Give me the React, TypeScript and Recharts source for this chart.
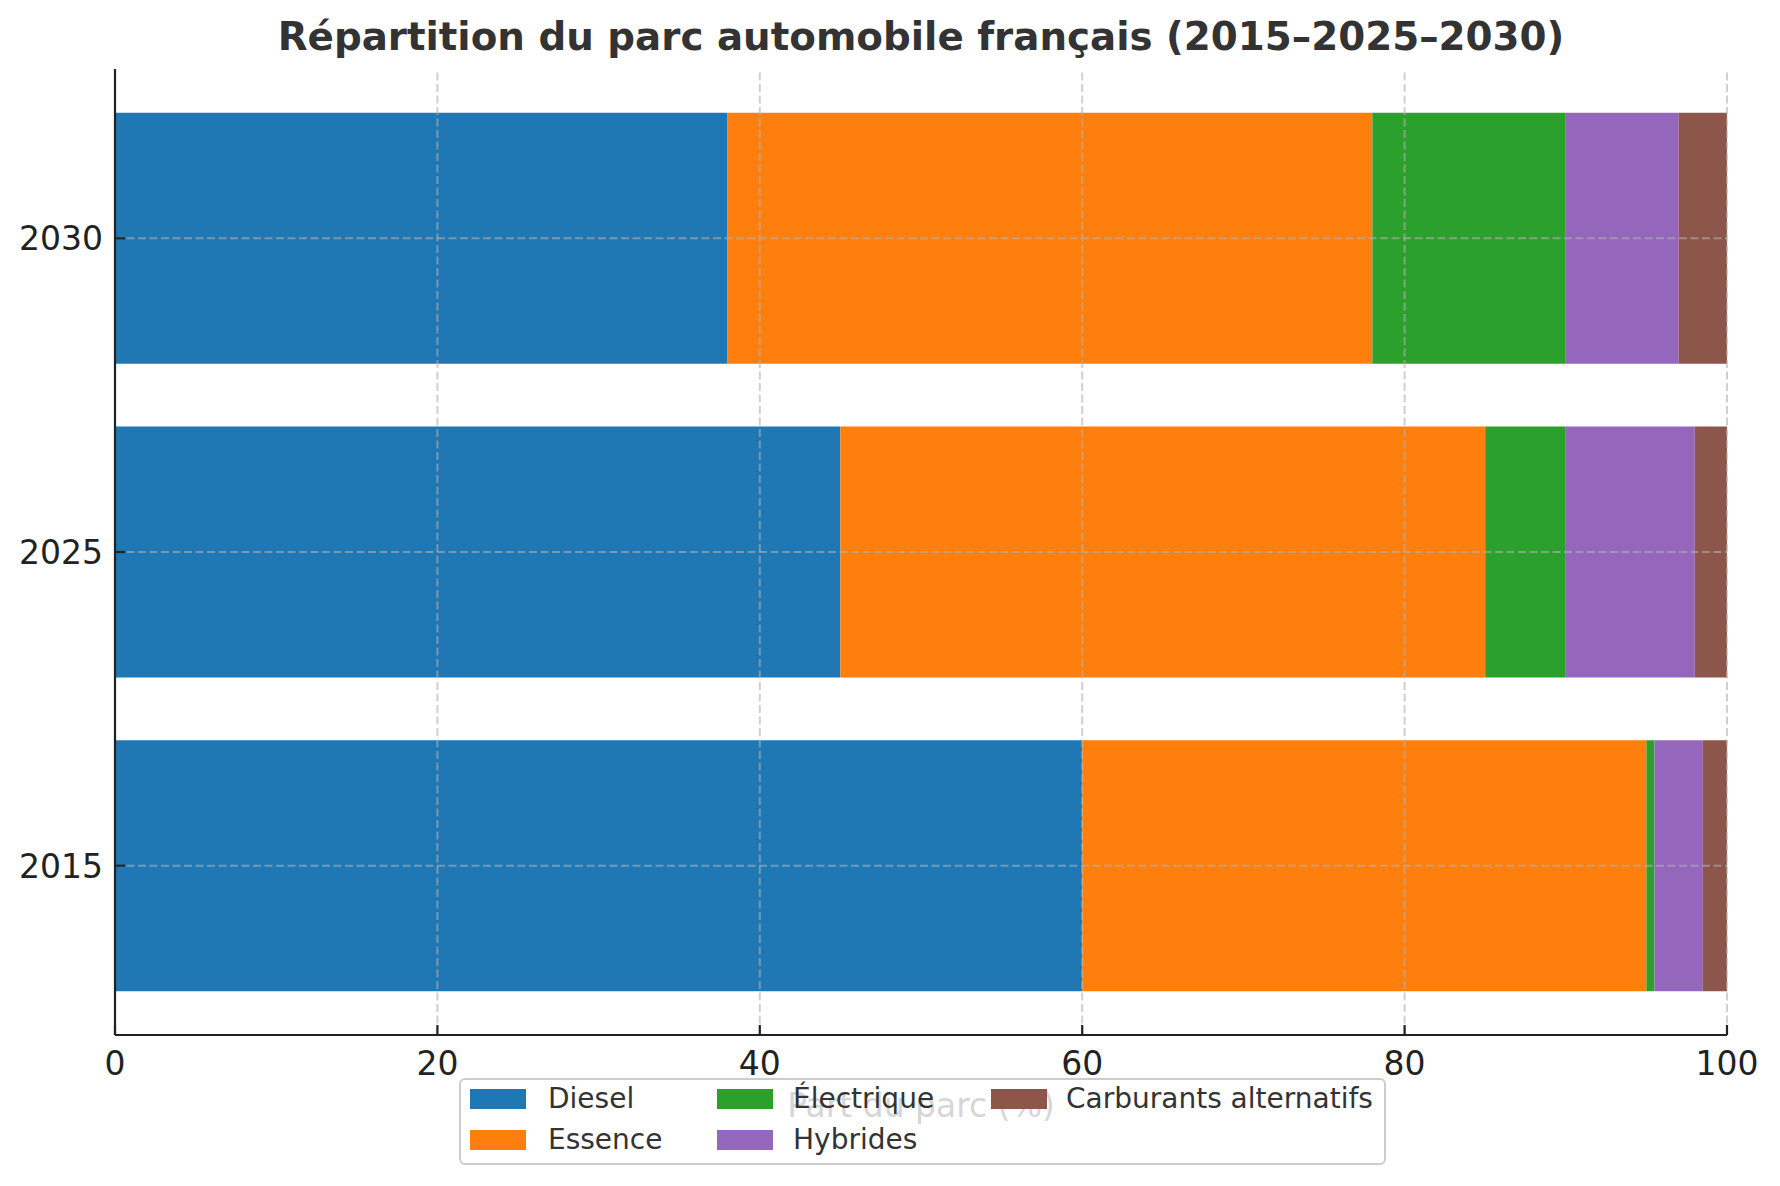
import React from 'react';
import { BarChart, Bar, XAxis, YAxis, ReferenceLine, Legend } from 'recharts';

const years = ['2015', '2025', '2030'];
const diesel = [60, 45, 38];
const essence = [35, 40, 40];
const electrique = [0.5, 5, 12];
const hybrides = [3, 8, 7];
const alternatifs = [1.5, 2, 3];
const xTicks = [0, 20, 40, 60, 80, 100];

const seriesKeys = ['diesel', 'essence', 'electrique', 'hybrides', 'alternatifs'];
const seriesNames = ['Diesel', 'Essence', 'Électrique', 'Hybrides', 'Carburants alternatifs'];
const seriesColors = ['#1f77b4', '#ff7f0e', '#2ca02c', '#9467bd', '#8c564b'];
const seriesValues = [diesel, essence, electrique, hybrides, alternatifs];

const title = 'Répartition du parc automobile français (2015–2025–2030)';
const xLabel = 'Part du parc (%)';

const data = years.map((year, i) => {
  const row: any = { year };
  seriesKeys.forEach((k, j) => {
    row[k] = seriesValues[j][i];
  });
  return row;
});

const FONT = 'DejaVu Sans';
const AXIS_COLOR = '#222222';

const renderXTick = (props: any) => {
  const { x, y, payload } = props;
  return (
    <g>
      <line x1={x} x2={x} y1={y} y2={y - 10} stroke={AXIS_COLOR} strokeWidth={2.2} />
      <text x={x} y={y + 40} textAnchor="middle" fontSize={33} fill={AXIS_COLOR} fontFamily={FONT}>
        {payload.value}
      </text>
    </g>
  );
};

const renderYTick = (props: any) => {
  const { x, y, payload } = props;
  return (
    <g>
      <line x1={x} x2={x + 10} y1={y} y2={y} stroke={AXIS_COLOR} strokeWidth={2.2} />
      <text x={x - 12} y={y + 12} textAnchor="end" fontSize={33} fill={AXIS_COLOR} fontFamily={FONT}>
        {payload.value}
      </text>
    </g>
  );
};

const renderXLabel = (props: any) => {
  const vb = props.viewBox || { x: 115, y: 1035, width: 1612, height: 100 };
  return (
    <text x={vb.x + vb.width / 2} y={vb.y + 82} textAnchor="middle" fontSize={33} fill="#333333" fontFamily={FONT}>
      {xLabel}
    </text>
  );
};

const legendCols = [[0, 1], [2, 3], [4]];
const colPatchLeft = [11, 258, 532];
const colTextLeft = [89, 334, 607];
const rowCenter = [21, 62];

const renderLegend = () => (
  <div
    style={{
      position: 'relative',
      width: 927,
      height: 87,
      boxSizing: 'border-box',
      border: '2.2px solid #cccccc',
      borderRadius: 6,
      background: 'rgba(255,255,255,0.8)',
      fontFamily: FONT,
    }}
  >
    {legendCols.map((col, ci) =>
      col.map((si, ri) => (
        <React.Fragment key={seriesKeys[si]}>
          <div
            style={{
              position: 'absolute',
              left: colPatchLeft[ci] - 2,
              top: rowCenter[ri] - 10 - 2,
              width: 56,
              height: 20,
              background: seriesColors[si],
            }}
          />
          <div
            style={{
              position: 'absolute',
              left: colTextLeft[ci] - 2,
              top: rowCenter[ri] - 17 - 2,
              height: 34,
              lineHeight: '34px',
              fontSize: 28,
              color: '#333333',
              whiteSpace: 'nowrap',
            }}
          >
            {seriesNames[si]}
          </div>
        </React.Fragment>
      ))
    )}
  </div>
);

const gridStyle = {
  stroke: '#b0b0b0',
  strokeOpacity: 0.6,
  strokeWidth: 2,
  strokeDasharray: '8 3.5',
};

export default function App() {
  return (
    <div style={{ position: 'absolute', left: 0, top: 0, width: 1780, height: 1186, background: '#fff' }}>
      <div
        style={{
          position: 'absolute',
          left: 115,
          width: 1612,
          top: 17,
          textAlign: 'center',
          fontFamily: FONT,
          fontWeight: 'bold',
          fontSize: 38.8,
          lineHeight: '39px',
          color: '#333333',
          whiteSpace: 'nowrap',
          zIndex: 2,
        }}
      >
        {title}
      </div>
      <BarChart
        layout="vertical"
        width={1780}
        height={1186}
        data={data}
        margin={{ top: 69, right: 53, bottom: 51, left: 15 }}
        barCategoryGap="10%"
      >
        <XAxis
          type="number"
          domain={[0, 100]}
          ticks={xTicks}
          interval={0}
          height={100}
          tickSize={0}
          tickMargin={0}
          tickLine={false}
          tick={renderXTick}
          axisLine={{ stroke: AXIS_COLOR, strokeWidth: 2.2 }}
          allowDataOverflow
          label={renderXLabel}
        />
        <YAxis
          type="category"
          dataKey="year"
          reversed
          width={100}
          padding={{ top: 12.5, bottom: 12.5 }}
          tickSize={0}
          tickMargin={0}
          tickLine={false}
          tick={renderYTick}
          axisLine={{ stroke: AXIS_COLOR, strokeWidth: 2.2 }}
        />
        {seriesKeys.map((k, i) => (
          <Bar
            key={k}
            dataKey={k}
            name={seriesNames[i]}
            stackId="a"
            fill={seriesColors[i]}
            isAnimationActive={false}
          />
        ))}
        {xTicks
          .filter((v) => v > 0)
          .map((v) => (
            <ReferenceLine key={'x' + v} x={v} {...gridStyle} />
          ))}
        {years.map((y) => (
          <ReferenceLine key={'y' + y} y={y} {...gridStyle} />
        ))}
        <Legend
          layout="horizontal"
          verticalAlign="middle"
          align="center"
          content={renderLegend}
          wrapperStyle={{ position: 'absolute', left: 459, top: 1078, width: 927, height: 87 }}
        />
      </BarChart>
    </div>
  );
}
